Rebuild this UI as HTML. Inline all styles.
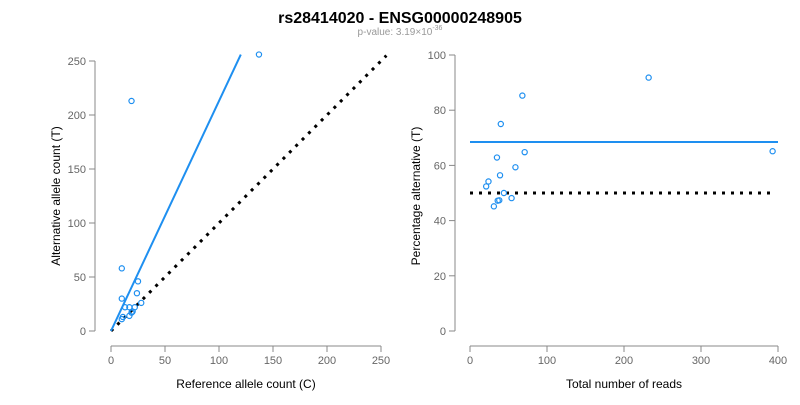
<!DOCTYPE html>
<html><head><meta charset="utf-8"><style>
body{margin:0;background:#fff;font-family:"Liberation Sans",Arial,sans-serif}
svg text{font-family:"Liberation Sans",Arial,sans-serif}
</style></head><body>
<svg id="chart" width="800" height="400" xmlns="http://www.w3.org/2000/svg">
<text x="400" y="23" text-anchor="middle" font-size="16" font-weight="bold" fill="#000">rs28414020 - ENSG00000248905</text>
<text x="400" y="35" text-anchor="middle" font-size="10" fill="#999">p-value: 3.19×10<tspan dy="-5" font-size="7">-36</tspan></text>
</svg>
<script>
const refCounts=[10,25,24,10,17,22,28,13,20,19,17,11,10,19,137];
const altCounts=[58,46,35,30,22,22,26,22,18,17,14,13,11,213,256];
const leftTicks=[0,50,100,150,200,250];
const rightXTicks=[0,100,200,300,400];
const rightYTicks=[0,20,40,60,80,100];
const fitSlope=[2.13];
const fitPct=[68.5];
const NS='http://www.w3.org/2000/svg';
const svg=document.getElementById('chart');
function mk(t,a,p){const e=document.createElementNS(NS,t);for(const k in a)e.setAttribute(k,a[k]);(p||svg).appendChild(e);return e;}
const lx=v=>111+v*1.08, ly=v=>331-v*1.08;
const rx=v=>470+v*0.77, ry=v=>331-v*2.76;
const G='#888';
// left axes
let g=mk('g',{});


mk('line',{x1:lx(0),x2:lx(250),y1:346,y2:346,stroke:G},g);
mk('line',{x1:95,x2:95,y1:ly(0),y2:ly(250),stroke:G},g);
leftTicks.forEach(t=>{
 mk('line',{x1:lx(t),x2:lx(t),y1:346,y2:352,stroke:G},g);
 let a=mk('text',{x:lx(t),y:364,'text-anchor':'middle','font-size':11,fill:'#666'},g);a.textContent=t;
 
 
 mk('line',{x1:89,x2:95,y1:ly(t),y2:ly(t),stroke:G},g);
 let b=mk('text',{x:86,y:ly(t)+4,'text-anchor':'end','font-size':11,fill:'#666'},g);b.textContent=t;
 
 
});
let t1=mk('text',{x:246,y:388,'text-anchor':'middle','font-size':12,fill:'#000'});t1.textContent='Reference allele count (C)';


let t2=mk('text',{x:0,y:0,'text-anchor':'middle','font-size':12,fill:'#000',transform:'translate(60,196) rotate(-90)'});t2.textContent='Alternative allele count (T)';


let d1=mk('line',{x1:lx(0),y1:ly(0),x2:lx(255),y2:ly(255),stroke:'#000','stroke-width':3,'stroke-dasharray':'3,6'});


const xe=256/fitSlope[0];
let f1=mk('line',{x1:lx(0),y1:ly(0),x2:lx(xe),y2:ly(xe*fitSlope[0]),stroke:'#1e8ff0','stroke-width':2});


refCounts.forEach((c,i)=>{
 let p=mk('circle',{cx:lx(c),cy:ly(altCounts[i]),r:2.6,fill:'none',stroke:'#1e8ff0','stroke-width':1.2});
 
 
});
// right axes
let g2=mk('g',{});


mk('line',{x1:rx(0),x2:rx(400),y1:346,y2:346,stroke:G},g2);
mk('line',{x1:455,x2:455,y1:ry(0),y2:ry(100),stroke:G},g2);
rightXTicks.forEach(t=>{
 mk('line',{x1:rx(t),x2:rx(t),y1:346,y2:352,stroke:G},g2);
 let a=mk('text',{x:rx(t),y:364,'text-anchor':'middle','font-size':11,fill:'#666'},g2);a.textContent=t;
 
 
});
rightYTicks.forEach(t=>{
 mk('line',{x1:449,x2:455,y1:ry(t),y2:ry(t),stroke:G},g2);
 let b=mk('text',{x:446,y:ry(t)+4,'text-anchor':'end','font-size':11,fill:'#666'},g2);b.textContent=t;
 
 
});
let t3=mk('text',{x:624,y:388,'text-anchor':'middle','font-size':12,fill:'#000'});t3.textContent='Total number of reads';


let t4=mk('text',{x:0,y:0,'text-anchor':'middle','font-size':12,fill:'#000',transform:'translate(420,196) rotate(-90)'});t4.textContent='Percentage alternative (T)';


let d2=mk('line',{x1:rx(0),y1:ry(50),x2:rx(393),y2:ry(50),stroke:'#000','stroke-width':3,'stroke-dasharray':'3,6'});


let f2=mk('line',{x1:rx(0),y1:ry(fitPct[0]),x2:rx(400),y2:ry(fitPct[0]),stroke:'#1e8ff0','stroke-width':2});


refCounts.forEach((c,i)=>{
 const tot=c+altCounts[i];
 let p=mk('circle',{cx:rx(tot),cy:ry(altCounts[i]/tot*100),r:2.6,fill:'none',stroke:'#1e8ff0','stroke-width':1.2});
 
 
});
</script>
</body></html>
